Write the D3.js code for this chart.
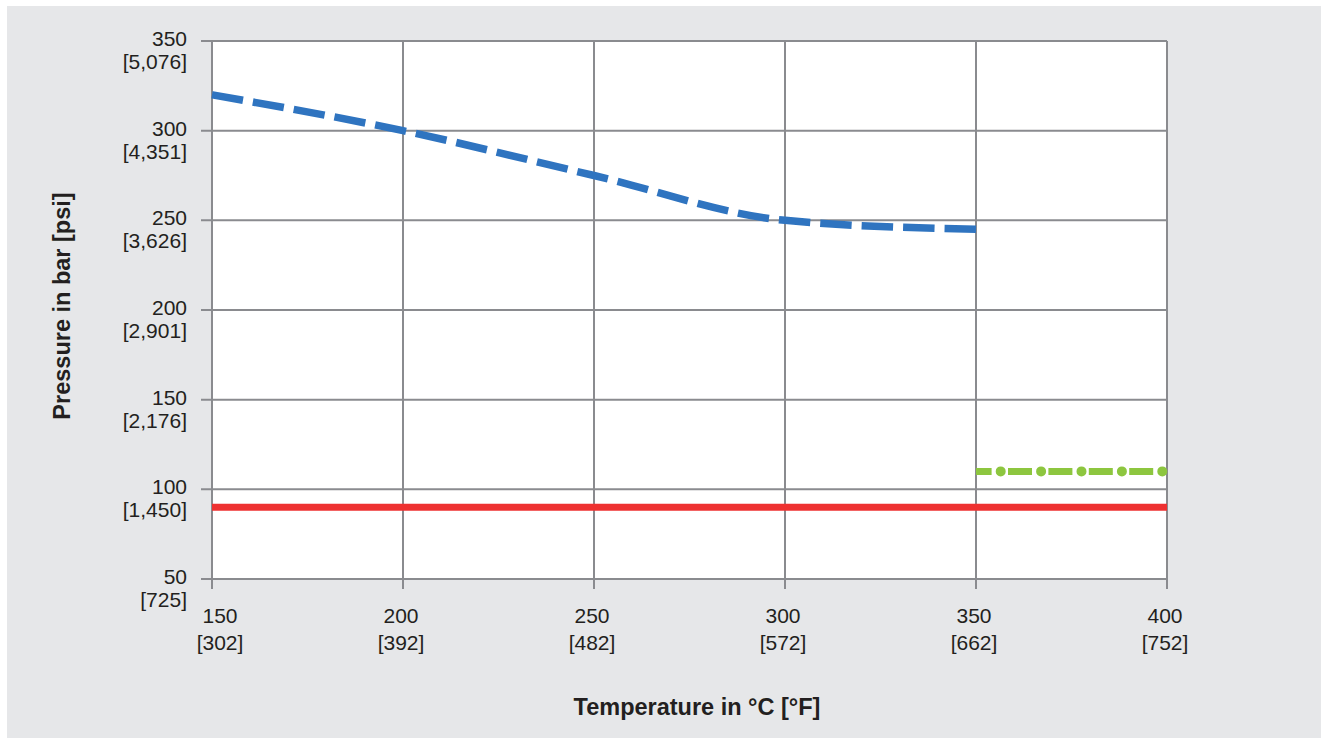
<!DOCTYPE html>
<html>
<head>
<meta charset="utf-8">
<script src="https://cdn.jsdelivr.net/npm/d3@7"></script>
<style>
  html, body { margin: 0; padding: 0; background: #fff; }
  text { font-family: "Liberation Sans", Arial, Helvetica, sans-serif; fill: #231f20; }
</style>
</head>
<body>
<script>
// axis ticks
var tempC = [150, 200, 250, 300, 350, 400];
var tempF = ["[302]", "[392]", "[482]", "[572]", "[662]", "[752]"];
var pressBar = [50, 100, 150, 200, 250, 300, 350];
var pressPsi = ["[725]", "[1,450]", "[2,176]", "[2,901]", "[3,626]", "[4,351]", "[5,076]"];

// series (bar vs °C)
var blueTemp = [150, 200, 250, 300, 350];
var blueBar = [320, 300, 275, 250, 245];
var redTemp = [150, 400];
var redBar = [90, 90];
var greenTemp = [350, 400];
var greenBar = [110, 110];

var W = 1321, H = 738;
var svg = d3.select("body").append("svg").attr("width", W).attr("height", H);

svg.append("rect").attr("x", 7).attr("y", 6).attr("width", W - 7).attr("height", H - 6).attr("fill", "#e6e7e9");

var x = d3.scaleLinear().domain([150, 400]).range([212, 1167]);
var y = d3.scaleLinear().domain([50, 350]).range([579, 41]);

var gridCol = "#8a8b8f";

svg.append("rect")
  .attr("x", x(150)).attr("y", y(350))
  .attr("width", x(400) - x(150)).attr("height", y(50) - y(350))
  .attr("fill", "#fff");

// grid + ticks
svg.append("g").selectAll("line").data(tempC).enter().append("line")
  .attr("x1", function(d){ return x(d); }).attr("x2", function(d){ return x(d); })
  .attr("y1", y(350)).attr("y2", y(50) + 10)
  .attr("stroke", gridCol).attr("stroke-width", 2);

svg.append("g").selectAll("line").data(pressBar).enter().append("line")
  .attr("y1", function(d){ return y(d); }).attr("y2", function(d){ return y(d); })
  .attr("x1", x(150) - 11).attr("x2", x(400))
  .attr("stroke", gridCol).attr("stroke-width", 2);

// y labels
var yl = svg.append("g").selectAll("text").data(pressBar).enter().append("text")
  .attr("text-anchor", "end").attr("font-size", 21);
yl.append("tspan").attr("x", 187).attr("y", function(d){ return y(d) + 5; })
  .text(function(d){ return d; });
yl.append("tspan").attr("x", 187).attr("y", function(d){ return y(d) + 28; })
  .text(function(d, i){ return pressPsi[i]; });

// x labels (first one nudged right to clear the y label)
var xl = svg.append("g").selectAll("text").data(tempC).enter().append("text")
  .attr("text-anchor", "middle").attr("font-size", 21);
xl.append("tspan").attr("x", function(d, i){ return x(d) + (i === 0 ? 8 : -2); }).attr("y", 623)
  .text(function(d){ return d; });
xl.append("tspan").attr("x", function(d, i){ return x(d) + (i === 0 ? 8 : -2); }).attr("y", 650)
  .text(function(d, i){ return tempF[i]; });

// axis titles
svg.append("text").attr("x", 697).attr("y", 715).attr("text-anchor", "middle")
  .attr("font-size", 23.5).attr("font-weight", "bold").text("Temperature in °C [°F]");
svg.append("text").attr("transform", "translate(70,306) rotate(-90)").attr("text-anchor", "middle")
  .attr("font-size", 23.5).attr("font-weight", "bold").text("Pressure in bar [psi]");

// lines
var line = d3.line().x(function(d){ return x(d[0]); }).y(function(d){ return y(d[1]); });

svg.append("path")
  .attr("d", line(d3.zip(redTemp, redBar)))
  .attr("fill", "none").attr("stroke", "#ee3131").attr("stroke-width", 7);

// green dash-dot: dashes and dots as two passes
var gPts = d3.zip(greenTemp, greenBar);
svg.append("path")
  .attr("d", line(gPts))
  .attr("fill", "none").attr("stroke", "#8dc63f").attr("stroke-width", 7)
  .attr("stroke-dasharray", "24,16.4").attr("stroke-dashoffset", 8.4);
svg.append("path")
  .attr("d", line(gPts))
  .attr("fill", "none").attr("stroke", "#8dc63f").attr("stroke-width", 10)
  .attr("stroke-linecap", "round")
  .attr("stroke-dasharray", "0,40.4").attr("stroke-dashoffset", -24.7);

var blue = svg.append("path")
  .attr("d", line.curve(d3.curveMonotoneX)(d3.zip(blueTemp, blueBar)))
  .attr("fill", "none").attr("stroke", "#2f74c0").attr("stroke-width", 7.5);
// stretch the dash period so the line ends on a dash
var len = blue.node().getTotalLength();
var per = (len + 10) / Math.round((len + 10) / 41);
blue.attr("stroke-dasharray", (per - 10) + "," + 10);
</script>
</body>
</html>
